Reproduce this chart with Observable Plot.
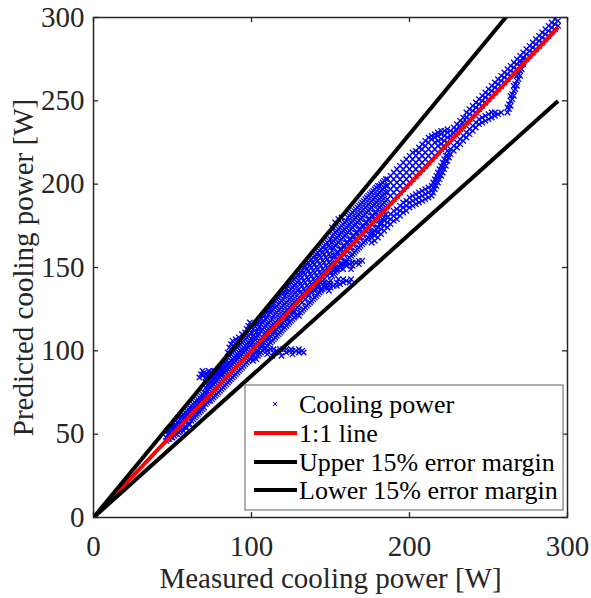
<!DOCTYPE html>
<html><head><meta charset="utf-8">
<script src="https://cdn.jsdelivr.net/npm/d3@7"></script>
<script src="https://cdn.jsdelivr.net/npm/@observablehq/plot@0.6"></script>
<style>html,body{margin:0;padding:0;background:#fff;} #chart{width:591px;height:598px;}</style>
</head><body><div id="chart"></div>
<script>
// ---- tick labels & names ----
const xTicks = [0, 100, 200, 300];
const yTicks = [0, 50, 100, 150, 200, 250, 300];
const seriesNames = ["Cooling power", "1:1 line", "Upper 15% error margin", "Lower 15% error margin"];
const xTitle = "Measured cooling power [W]";
const yTitle = "Predicted cooling power [W]";
const errorMargin = 0.15;
const lineExtent = [0, 294];

// ---- measured / predicted values ----
// rows: [measured, predicted, predicted, ...]
const originRows = [[0, 0]];
const startRows = [
[46,46,48],[47,47,50,52],[48,47,49,52],[49,48,51,54],[50,48,50,53,55],[51,49,52,55],[52,50,53,56,58],[53,50,54,57],
[54,51,55,58,60],[55,52,56,59],[56,53,55,58,61],[57,52,56,59,62],[58,54,57,60,63],[59,54,58,61,64],[60,56,59,62,65],
[61,56,60,63,66],[62,58,61,64,67],[63,59,62,65,68],[64,60,63,66,69],[65,61,64,67,70],[66,62,65,68,71],[67,63,66,69,72],
[68,64,67,70,73],[69,65,68,71,74],[70,66,69,72,75]
];
const leftStreakRows = [[67,84],[68,86],[69,85,88],[70,87],[71,84,86],[72,86],[73,88],[74,85,87],[75,87],[76,86,88],[77,88],[78,85,87],[79,87],[80,89,86],[81,86],[82,88],[83,87]];
const lowBandRows = [
[71,68,72,75,78,81],[72,69,73,76,79,82],[73,70,74,77,80,83],[74,70,74,78,81,84],[75,71,75,79,82,85],
[76,72,76,80,83,86],[77,73,77,81,84,87],[78,74,78,82,85,88],[79,75,79,83,86,89],[80,76,80,84,87,90],
[81,77,81,85,88,91],[82,78,82,86,89,92],[83,79,83,87,90,93],[84,80,84,88,91,94],[85,81,85,89,92,96],
[86,82,86,90,93,97],[87,83,87,91,94,98],[88,84,88,92,95,99],[89,85,89,93,96,100],[90,86,90,94,97,101],
[91,87,91,95,98,102],[92,88,92,96,99,103],[93,89,93,97,100,104],[94,90,94,98,101,105],[95,91,95,99,102,106],
[96,92,96,100,103,107],[97,93,97,101,104,108],[98,94,98,102,105,109],[99,95,99,103,106,110],[100,96,100,104,107,111]
];
const bulgeRows = [[85,99],[86,102],[87,104],[88,106],[89,103],[90,107],[91,105],[92,108],[93,106],[94,110],[95,108],[96,111],[97,113],[98,115],[99,117],[100,114],[151,174],[153,177],[155,179],[157,180]];
const midBandRows = [
[101,94,98,102,105,109,113],[102,96,101,104,108,112,115],[103,95,99,103,108,111,116],[104,97,100,105,109,113,116],
[105,98,102,106,110,114,118],[106,99,104,107,112,116,119],[107,100,103,108,113,117,121],[108,101,105,110,114,118,121],
[109,102,106,111,115,119,123],[110,103,108,112,116,120,124],[111,104,107,113,117,122,125],[112,105,109,114,118,123,126],
[113,106,110,115,119,124,127],[114,107,112,116,121,125,128],[115,108,111,117,122,126,130],[116,109,113,118,123,127,131],
[117,110,114,119,124,128,132],[118,111,116,120,125,129,133],[119,112,115,121,126,130,134],[120,113,117,122,127,131,135],
[121,114,118,123,128,133,136],[122,115,120,124,129,134,137],[123,116,119,125,130,135,139],[124,117,121,126,131,136,140],
[125,118,122,127,132,137,141],[126,119,124,128,133,138,142],[127,120,123,129,134,139,143],[128,121,125,130,135,140,144],
[129,122,126,131,136,141,145],[130,121,127,132,137,142,146],[131,123,130,135,140,145,147],[132,124,129,134,139,144,148],
[133,125,132,137,142,147,150],[134,126,131,136,141,146,151],[135,127,134,139,144,149,152],[136,128,133,138,143,148,153],
[137,129,136,141,146,151,154],[138,130,135,140,145,150,155],[139,131,138,143,148,153,156],[140,132,137,142,147,152,157],
[141,133,140,145,150,155,158],[142,134,139,144,149,154,159],[143,135,142,147,152,157,160],[144,136,141,146,151,156,161],
[145,137,144,149,154,159,162],[146,138,143,148,153,158,163],[147,139,146,151,156,161,164],[148,140,145,150,155,160,165],
[149,141,148,153,158,163,166],[150,142,147,152,157,162,167]
];
const upperBandRows = [
[151,145,150,155,160,165,169],[152,146,152,157,162,166,170],[153,147,152,157,163,167,171],[154,148,154,159,164,168,172],
[155,149,154,159,165,169,173],[156,150,156,161,166,170,174],[157,151,156,161,167,171,175],[158,152,158,163,168,172,176],
[159,153,158,163,169,173,177],[160,154,160,165,170,174,178],[161,155,160,165,171,175,180],[162,156,162,167,172,176,181],
[163,157,162,167,173,177,182],[164,158,164,169,174,178,183],[165,159,164,169,175,179,184],[166,160,166,171,176,180,185],
[167,161,166,171,177,181,186],[168,162,168,173,178,182,187],[169,163,168,173,179,183,188],[170,164,170,175,180,184,189],
[171,165,170,175,181,185,190],[172,166,172,177,182,186,191],[173,167,172,177,183,187,192],[174,168,174,179,184,188,193],
[175,169,174,179,185,189,194],[176,170,176,181,186,190,195],[177,171,176,181,187,191,196],[178,172,178,183,188,192,197],
[179,173,178,183,189,193,198],[180,174,180,185,190,194,199],[181,176,181,186,191,195,199],[182,177,182,187,192,196,200],
[183,179,183,188,193,197,201],[184,180,184,189,194,198,202],[185,182,186,190,195,199,203]
];
const upperStrandRows = [
[186,187,191,195,199,203],[188,189,193,197,201,205],[190,191,195,199,203,207],[192,193,197,201,205,209],
[194,195,199,203,207,211],[196,197,201,205,209,213],[198,199,203,207,211,215],[200,201,205,209,213,217],
[202,203,207,211,215,219],[204,205,209,213,217,220],[206,207,211,215,219,222],[208,209,213,217,221,224],
[210,211,215,219,223,226],[212,213,217,221,225,228],[214,215,219,223,227,229],[216,217,221,225,228,230],
[218,219,223,226,229,231],[220,221,224,227,230,232],[222,223,226,229,232],[224,225,228,231,233],
[226,227,229,232],[228,229,231,234],[230,231,233,236],[232,233,235,238],[234,235,237,240],[236,237,240,243],
[238,239,242,245],[240,241,244,247],[242,243,246,249],[244,245,248,251],[246,247,250,253],[248,249,252,255],
[250,251,254,257],[252,253,256,259],[254,255,258,261],[256,257,260,263],[258,259,262,265],[260,261,264,267],
[262,263,266,269],[264,265,268,271],[266,267,270,273],[268,269,272,275],[270,271,274,277],[272,273,276,279],
[274,275,278,281],[276,277,280,283],[278,279,282,285],[280,281,284,287],[282,283,286,289],[284,285,288,291],
[286,287,290,293],[288,289,292,295],[290,291,294,297],[292,293,296,299],[294,295,298]
];
const lowerStrandRows = [
[176,165,168,171],[178,166,169,172],[180,168,171,174],[182,170,173,176],[184,172,175,178],[186,174,177,180],
[188,176,179,182],[190,178,181,184],[192,179,182,185],[194,181,184,187],[196,183,186,189],[198,184,187,190],
[200,186,189,192],[202,187,190,193],[204,188,191,194],[206,189,192,195],[208,190,193,196],[210,191,194,197],
[212,192,195,198],[214,193,196,199],[215,195,198,201],[216,197,200,203],[217,199,202,205],[218,201,204,207],
[219,203,206,209],[220,205,208,211],[221,207,210,213],[222,209,212,215],[223,211,214,217],[224,214,217,220],
[225,216,219],[226,218,221],[228,220,223],[230,222,225],[232,224,227],[234,226,229],[236,228,231],[238,230,233],
[240,232,235],[242,234,237],[244,236,239],[246,237,240],[248,238,241],[250,239,242],[252,240,243],[254,241,243],
[256,242],[258,243]
];
const hookRows = [
[262,243,246],[263,245,248],[264,247,250,253],[265,251,254],[266,253,256,259],[267,257,260],[268,259,262,265],
[269,263,266],[270,265,268,271],[271,269,272],[272,272,275]
];
const streakLowRows = [[108,101],[110,100,98],[112,101],[114,99,101],[116,100],[118,99,101],[120,101],[122,99,101],[124,100],[126,98,100],[128,100],[130,99,101],[132,100],[133,99],[113,97],[119,97],[125,101]];
const streakMidRows = [[136,134],[138,137,135],[140,136],[142,138,140],[144,137],[146,139,141],[148,138],[150,140,138],[152,139],[154,141,139],[156,140],[158,141,143],[160,142],[162,141],[163,143],[149,136],[155,143]];
const streakHighRows = [[150,147],[152,148,150],[154,149],[156,150,152],[158,149],[160,151,153],[162,152],[164,151,153],[166,153],[168,152,154],[170,154],[157,152],[163,149]];

// ---- build table ----
const fromRows = rows => rows.flatMap(([m, ...ps]) => ps.map(p => ({m, p})));
const points = [originRows, startRows, leftStreakRows, lowBandRows, bulgeRows, midBandRows, upperBandRows,
  upperStrandRows, lowerStrandRows, hookRows, streakLowRows, streakMidRows, streakHighRows].flatMap(fromRows);
const refLine = lineExtent.map(m => ({m, p: m}));
const upperLine = lineExtent.map(m => ({m, p: m * (1 + errorMargin)}));
const lowerLine = lineExtent.map(m => ({m, p: m * (1 - errorMargin)}));

// ---- layout ----
const W = 591, H = 598, mL = 93, mR = 24, mT = 17, mB = 81;
const innerW = W - mL - mR, innerH = H - mT - mB;
const tickLen = 5;
const axisColor = "#262626";
const blue = "#0000ff", red = "#ff0000", black = "#000000";
const serif = "'Liberation Serif','Times New Roman',serif";

const chart = Plot.plot({
  width: W, height: H,
  marginLeft: mL, marginRight: mR, marginTop: mT, marginBottom: mB,
  style: {fontFamily: serif, fontSize: "29px", color: axisColor, background: "#fff", overflow: "visible"},
  x: {domain: [0, 300]},
  y: {domain: [0, 300]},
  marks: [
    Plot.dot(points, {x: "m", y: "p", symbol: "times", r: 2.6, stroke: blue, strokeWidth: 1.3, clip: true}),
    Plot.line(refLine, {x: "m", y: "p", stroke: red, strokeWidth: 4, strokeLinecap: "butt", clip: true}),
    Plot.line(upperLine, {x: "m", y: "p", stroke: black, strokeWidth: 4, strokeLinecap: "butt", clip: true}),
    Plot.line(lowerLine, {x: "m", y: "p", stroke: black, strokeWidth: 4, strokeLinecap: "butt", clip: true}),
    Plot.tickX(xTicks, {x: d => d, insetTop: innerH - tickLen, stroke: axisColor, strokeWidth: 1.3}),
    Plot.tickX(xTicks, {x: d => d, insetBottom: innerH - tickLen, stroke: axisColor, strokeWidth: 1.3}),
    Plot.tickY(yTicks, {y: d => d, insetRight: innerW - tickLen, stroke: axisColor, strokeWidth: 1.3}),
    Plot.tickY(yTicks, {y: d => d, insetLeft: innerW - tickLen, stroke: axisColor, strokeWidth: 1.3}),
    Plot.frame({stroke: axisColor, strokeWidth: 1.5}),
    Plot.axisX(xTicks, {tickSize: 0, tickPadding: 18, label: xTitle, labelAnchor: "center", labelOffset: 70, labelArrow: "none"}),
    Plot.axisY(yTicks, {tickSize: 0, tickPadding: 9, label: yTitle, labelAnchor: "center", labelOffset: 81, labelArrow: "none"})
  ]
});
document.getElementById("chart").appendChild(chart);

// ---- legend ----
const svg = d3.select(chart);
const lg = svg.append("g").attr("font-family", serif).attr("font-size", 26).attr("fill", "#000").attr("text-anchor", "start");
const box = {x: 245, y: 385, w: 318, h: 125};
lg.append("rect").attr("x", box.x).attr("y", box.y).attr("width", box.w).attr("height", box.h)
  .attr("fill", "#fff").attr("stroke", "#7a7a7a").attr("stroke-width", 1.2);
const rowY = [404, 433, 462, 490];
const styles = [{type: "marker", color: blue}, {type: "line", color: red}, {type: "line", color: black}, {type: "line", color: black}];
seriesNames.forEach((name, i) => {
  const s = styles[i];
  if (s.type === "marker") {
    lg.append("path").attr("d", d3.symbol(d3.symbolTimes, Math.PI * 4)()).attr("transform", `translate(275,${rowY[i]})`)
      .attr("stroke", s.color).attr("fill", "none").attr("stroke-width", 1);
  } else {
    lg.append("line").attr("x1", 254).attr("x2", 297).attr("y1", rowY[i]).attr("y2", rowY[i]).attr("stroke", s.color).attr("stroke-width", 4);
  }
  lg.append("text").attr("x", 299).attr("y", rowY[i]).attr("dy", "0.35em").attr("text-anchor", "start").text(name);
});
</script>
</body></html>
